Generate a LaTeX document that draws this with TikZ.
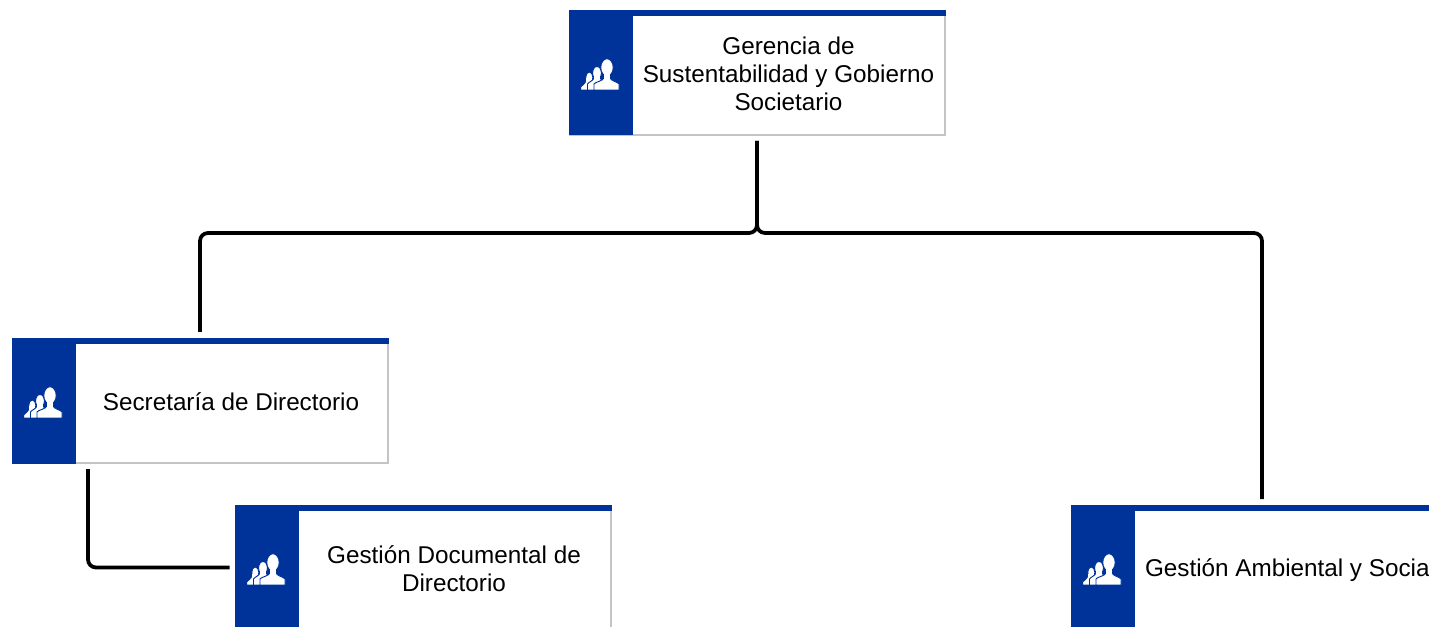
\documentclass[tikz,border=0pt]{standalone}
\usepackage{fontspec}
\setmainfont{Liberation Sans}
\usetikzlibrary{calc}
\definecolor{corpblue}{HTML}{003399}
\definecolor{edgegray}{HTML}{C4C4C4}
\tikzset{
  x=0.75pt, y=-0.75pt,
  card/.style={fill=white, minimum width=282pt, minimum height=93.75pt, inner sep=0pt, outer sep=0pt, anchor=north west},
  cardedge/.style={draw=edgegray, line width=1.2pt},
  cardlabel/.style={align=center, font=\fontsize{18.2}{21}\selectfont, text=black, inner sep=0pt},
  link/.style={draw=black, line width=2.8pt, rounded corners=6pt},
  blueband/.style={fill=corpblue},
  personicon/.pic={
    \foreach \hx/\hy/\rx/\ry/\bl/\br/\sh in {20.3/67.5/3.6/5.5/11.7/26/73, 28/63/4.4/6.5/18.5/36/70, 38/57.5/6.2/8.8/25/50/70}{
      \path[fill=white, draw=corpblue, line width=0.7pt]
        (\bl,80) -- (\bl,{\sh+4}) .. controls ({\bl+1},{\sh+2}) and ({\hx-4},{\sh+1}) .. ({\hx-3},{\sh-2})
        -- ({\hx+3},{\sh-2}) .. controls ({\hx+4},{\sh+1}) and ({\br-1},{\sh+2}) .. (\br,{\sh+4}) -- (\br,80) -- cycle;
      \path[fill=white, draw=corpblue, line width=0.7pt] (\hx,\hy) ellipse [x radius=\rx*0.75pt, y radius=\ry*0.75pt];
      \path[fill=white] ({\hx-3},{\hy+1}) rectangle ({\hx+3},{\sh+1});
    }
    \path[fill=corpblue] (0,80) rectangle (60,82);
  }
}
\newcommand{\cardbody}[4]{%
  \path[cardedge] (#4.north east) -- (#4.south east) -- (#4.south west);
  \path[blueband] (#1,#2) rectangle ++(64,125.5);
  \path[blueband] (#1,#2) rectangle ++(#3+0.5,6);
  \pic at (#1,#2) {personicon};
}
\begin{document}
\begin{tikzpicture}
\useasboundingbox (0,0) rectangle (1429,627);
\clip (0,0) rectangle (1429,627);
\fill[white] (0,0) rectangle (1429,627);

\node[card] (a) at (569,10) {};
\node[card] (b) at (12,338) {};
\node[card] (c) at (235,505) {};
\node[card, minimum width=286.5pt] (d) at (1071,505) {};
\cardbody{569}{10}{376}{a}
\cardbody{12}{338}{376}{b}
\cardbody{235}{505}{376}{c}
\cardbody{1071}{505}{382}{d}

\node[cardlabel] (ta) at (788.5,73.5) {Gerencia de\\Sustentabilidad y Gobierno\\Societario};
\node[cardlabel] (tb) at (231,401.5) {Secretaría de Directorio};
\node[cardlabel] (tc) at (454,569) {Gestión Documental de\\Directorio};
\node[cardlabel] (td) at (1290,570) {Gestión Ambiental y Social};

\draw[link, shorten <=4.5pt, shorten >=4.5pt] (a.south) |- (757,233) -| (b.north);
\draw[link, shorten <=4.5pt, shorten >=4.5pt] (a.south) |- (757,233) -| (d.north);
\coordinate (bfoot) at ($(b.south west)+(76,0)$);
\draw[link, shorten <=4.5pt, shorten >=4pt] (bfoot) |- (c.west);
\end{tikzpicture}
\end{document}
